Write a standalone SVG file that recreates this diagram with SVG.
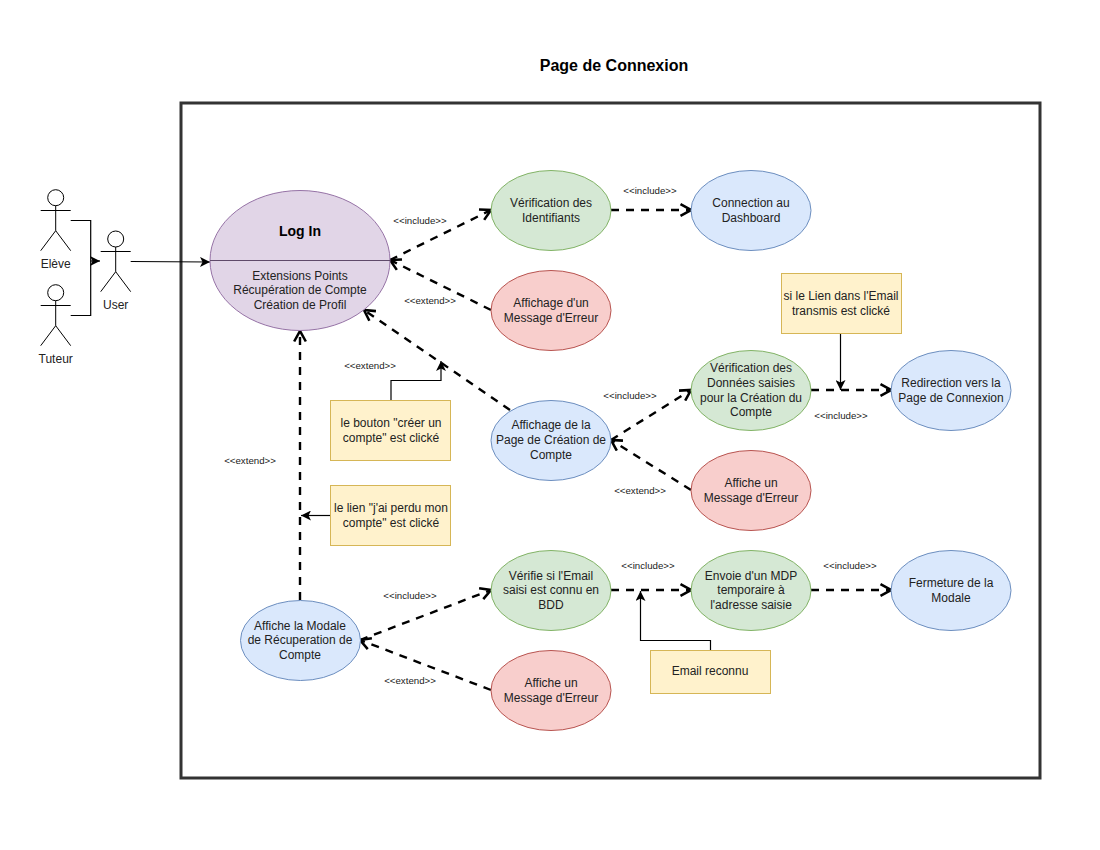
<svg xmlns="http://www.w3.org/2000/svg" width="1100" height="850" viewBox="0 0 1100 850">
<style>
text{font-family:"Liberation Sans",Arial,sans-serif;font-size:12px;fill:#222;text-anchor:middle}
.small{font-size:9.700px}
.title{font-size:16px;font-weight:bold;fill:#000}
.purple{fill:#e1d5e7;stroke:#9673a6}
.green{fill:#d5e8d4;stroke:#82b366}
.blue{fill:#dae8fc;stroke:#6c8ebf}
.red{fill:#f8cecc;stroke:#b85450}
.note{fill:#fff2cc;stroke:#d6b656}
.actor{fill:#fff;stroke:#000;stroke-width:1}
.dash{fill:none;stroke:#000;stroke-width:2.400;stroke-dasharray:8 7;marker-end:url(#open)}
.solid{fill:none;stroke:#000;stroke-width:1.200;marker-end:url(#fill)}
.plain{fill:none;stroke:#000;stroke-width:1.200}
</style>
<defs>
<marker id="open" markerUnits="userSpaceOnUse" markerWidth="14" markerHeight="14" refX="11" refY="6" orient="auto" viewBox="0 0 12 12"><path d="M2 1L11 6L2 11" fill="none" stroke="#000" stroke-width="2.200"/></marker>
<marker id="fill" markerUnits="userSpaceOnUse" markerWidth="10" markerHeight="10" refX="8" refY="4" orient="auto" viewBox="0 0 8 8"><path d="M0 0L8 4L0 8L2 4Z" fill="#000"/></marker>
</defs>
<text class="title" x="614" y="71">Page de Connexion</text>
<rect id="frame" x="181" y="103" width="859" height="675" fill="none" stroke="#333" stroke-width="3"/>
<g id="connectors">
<path class="plain" d="M70.700 220.500H90.700V315.500H70.700"/>
<path class="solid" d="M90.700 261H100"/>
<path class="solid" d="M130.700 261.500L210 262"/>
<path class="dash" d="M390 260L491 210"/>
<path class="dash" d="M611 210H691"/>
<path class="dash" d="M491 310L390 260"/>
<path class="dash" d="M510 410L364 310"/>
<path class="solid" d="M391 400V380.500H441V361"/>
<path class="dash" d="M300 600V331"/>
<path class="solid" d="M331 515.500H301"/>
<path class="dash" d="M611 440L691 390"/>
<path class="dash" d="M691 490L611 440"/>
<path class="dash" d="M811 390H891"/>
<path class="solid" d="M840.500 333V390"/>
<path class="dash" d="M360 640L491 590"/>
<path class="dash" d="M491 690L360 640"/>
<path class="dash" d="M611 590H691"/>
<path class="dash" d="M811 590H891"/>
<path class="solid" d="M710.500 650V640.500H640.500V591"/>
</g>
<g id="actor-eleve"><circle class="actor" cx="55.700" cy="197.700" r="8"/><path class="actor" d="M55.700 205.700V230.700M40.700 210.500H70.700M40.700 250.700L55.700 230.700L70.700 250.700" fill="none"/><text x="55.700" y="268">Elève</text></g>
<g id="actor-tuteur"><circle class="actor" cx="55.700" cy="292.700" r="8"/><path class="actor" d="M55.700 300.700V325.700M40.700 305.500H70.700M40.700 345.700L55.700 325.700L70.700 345.700" fill="none"/><text x="55.700" y="363">Tuteur</text></g>
<g id="actor-user"><circle class="actor" cx="115.700" cy="239" r="8"/><path class="actor" d="M115.700 247V271.700M100.700 251.500H130.700M100.700 291.700L115.700 271.700L130.700 291.700" fill="none"/><text x="115.700" y="309">User</text></g>
<g id="login"><ellipse class="purple" cx="300" cy="260.500" rx="90" ry="70"/><path d="M210 260.500H390" stroke="#5f4a6a" fill="none"/><text x="300" y="236" style="font-size:14px;font-weight:bold;fill:#000">Log In</text><text x="300" y="280">Extensions Points</text><text x="300" y="294">Récupération de Compte</text><text x="300" y="309">Création de Profil</text></g>
<g id="verif-id"><ellipse class="green" cx="551" cy="210.500" rx="60" ry="40"/><text x="551" y="207">Vérification des</text><text x="551" y="222">Identifiants</text></g>
<g id="dashboard"><ellipse class="blue" cx="751" cy="210.500" rx="60" ry="40"/><text x="751" y="207">Connection au</text><text x="751" y="222">Dashboard</text></g>
<g id="err1"><ellipse class="red" cx="551" cy="310.500" rx="60" ry="40"/><text x="551" y="307">Affichage d'un</text><text x="551" y="322">Message d'Erreur</text></g>
<g id="verif-data"><ellipse class="green" cx="751" cy="390.500" rx="60" ry="40"/><text x="751" y="372">Vérification des</text><text x="751" y="387">Données saisies</text><text x="751" y="402">pour la Création du</text><text x="751" y="416">Compte</text></g>
<g id="redirect"><ellipse class="blue" cx="951" cy="390.500" rx="60" ry="40"/><text x="951" y="387">Redirection vers la</text><text x="951" y="402">Page de Connexion</text></g>
<g id="page-creation"><ellipse class="blue" cx="551" cy="440.500" rx="60" ry="40"/><text x="551" y="429">Affichage de la</text><text x="551" y="444">Page de Création de</text><text x="551" y="459">Compte</text></g>
<g id="err2"><ellipse class="red" cx="751" cy="490.500" rx="60" ry="40"/><text x="751" y="487">Affiche un</text><text x="751" y="502">Message d'Erreur</text></g>
<g id="modale"><ellipse class="blue" cx="300.500" cy="640.500" rx="60" ry="40"/><text x="300" y="630">Affiche la Modale</text><text x="300" y="644">de Récuperation de</text><text x="300" y="659">Compte</text></g>
<g id="verif-email"><ellipse class="green" cx="551" cy="590.500" rx="60" ry="40"/><text x="551" y="580">Vérifie si l'Email</text><text x="551" y="594">saisi est connu en</text><text x="551" y="609">BDD</text></g>
<g id="envoi"><ellipse class="green" cx="751" cy="590.500" rx="60" ry="40"/><text x="751" y="580">Envoie d'un MDP</text><text x="751" y="594">temporaire à</text><text x="751" y="609">l'adresse saisie</text></g>
<g id="fermeture"><ellipse class="blue" cx="951" cy="590.500" rx="60" ry="40"/><text x="951" y="587">Fermeture de la</text><text x="951" y="602">Modale</text></g>
<g id="err3"><ellipse class="red" cx="551" cy="690.500" rx="60" ry="40"/><text x="551" y="687">Affiche un</text><text x="551" y="702">Message d'Erreur</text></g>
<g id="note-lien-email"><rect class="note" x="781.500" y="273.500" width="120" height="60"/><text x="841" y="300">si le Lien dans l'Email</text><text x="841" y="315">transmis est clické</text></g>
<g id="note-bouton"><rect class="note" x="330.500" y="400.500" width="120" height="60"/><text x="391" y="427">le bouton "créer un</text><text x="391" y="442">compte" est clické</text></g>
<g id="note-lien"><rect class="note" x="330.500" y="485.500" width="120" height="60"/><text x="391" y="512">le lien "j'ai perdu mon</text><text x="391" y="527">compte" est clické</text></g>
<g id="note-email"><rect class="note" x="650.500" y="650.500" width="120" height="43"/><text x="710" y="675">Email reconnu</text></g>
<g id="labels">
<text class="small" x="420" y="224">&lt;&lt;include&gt;&gt;</text>
<text class="small" x="650" y="194">&lt;&lt;include&gt;&gt;</text>
<text class="small" x="430" y="304">&lt;&lt;extend&gt;&gt;</text>
<text class="small" x="370" y="369">&lt;&lt;extend&gt;&gt;</text>
<text class="small" x="630" y="399">&lt;&lt;include&gt;&gt;</text>
<text class="small" x="841" y="419">&lt;&lt;include&gt;&gt;</text>
<text class="small" x="640" y="494">&lt;&lt;extend&gt;&gt;</text>
<text class="small" x="250" y="464">&lt;&lt;extend&gt;&gt;</text>
<text class="small" x="410" y="599">&lt;&lt;include&gt;&gt;</text>
<text class="small" x="648" y="569">&lt;&lt;include&gt;&gt;</text>
<text class="small" x="850" y="569">&lt;&lt;include&gt;&gt;</text>
<text class="small" x="410" y="684">&lt;&lt;extend&gt;&gt;</text>
</g>
</svg>
